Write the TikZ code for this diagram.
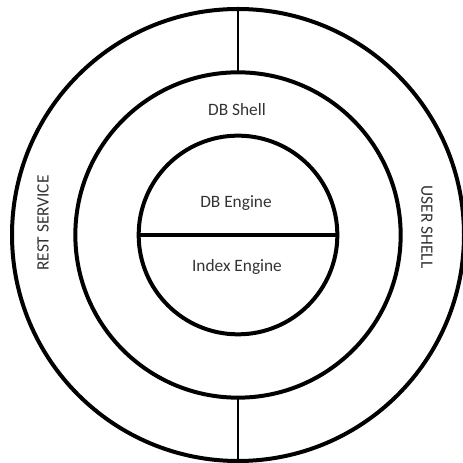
\documentclass[tikz,border=0pt]{standalone}
\usepackage{fontspec}
\setmainfont{Carlito}
\usepackage{tikz}
\usepackage{xcolor}
\definecolor{labelgray}{HTML}{333333}

\begin{document}
\begin{tikzpicture}[x=0.75pt,y=0.75pt,
    ring/.style={circle,draw=black,line width=3pt,inner sep=0pt,outer sep=0pt},
    lbl/.style={text=labelgray,font=\fontsize{13}{15}\selectfont}]
    \useasboundingbox (0,0) rectangle (463,463);
    \node[ring,minimum size=339pt] (outer) at (238,228) {};
    \node[ring,minimum size=244pt] (shell) at (238,228) {};
    \node[ring,minimum size=149pt] (core) at (238,228) {};
    \draw[line width=1pt] (outer.north)--(shell.north);
    \draw[line width=1pt] (shell.south)--(outer.south);
    \draw[line width=3pt] (core.west)--(core.east);

    \node[lbl] (dbshell) at (237,353) {DB Shell};
    \node[lbl] (dbengine) at (236,260) {DB Engine};
    \node[lbl] (indexengine) at (237,196) {Index Engine};
    \node[lbl,rotate=90] (rest) at (43,240) {REST SERVICE};
    \node[lbl,rotate=-90] (user) at (427,236) {USER SHELL};
\end{tikzpicture}
\end{document}
